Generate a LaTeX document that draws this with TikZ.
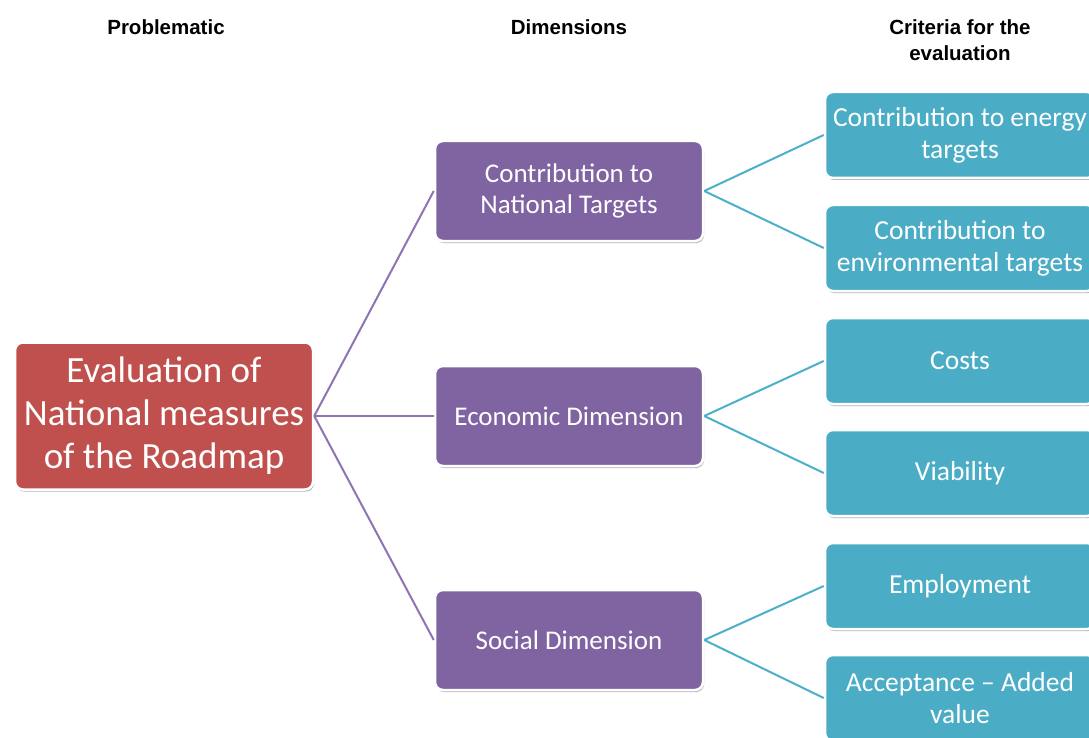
\documentclass[tikz,border=0pt]{standalone}
\usepackage{fontspec}
\setmainfont{Carlito}
\newfontfamily\hdrfont{Liberation Sans}
\usetikzlibrary{shadows}
\definecolor{cred}{HTML}{C0504D}
\definecolor{cpurple}{HTML}{8064A2}
\definecolor{cteal}{HTML}{4BACC6}
\definecolor{cpline}{HTML}{8E74B4}
\definecolor{ctline}{HTML}{4BB0CA}
\begin{document}
\begin{tikzpicture}[x=1pt,y=-1pt,
  box/.style={rounded corners=8pt, draw=white, line width=2.5pt, text=white, align=center, inner sep=0pt,
    drop shadow={shadow xshift=1pt, shadow yshift=-2pt, opacity=0.3, fill=black}},
  redbox/.style={box, fill=cred, minimum width=298pt, minimum height=147pt, font=\fontsize{37}{43}\selectfont},
  purplebox/.style={box, fill=cpurple, minimum width=268pt, minimum height=100pt, font=\fontsize{27}{31}\selectfont},
  tealbox/.style={box, fill=cteal, minimum width=270pt, minimum height=86pt, font=\fontsize{27.5}{32}\selectfont},
  header/.style={align=center, inner sep=0pt, font=\hdrfont\bfseries\fontsize{20.5}{26}\selectfont},
  pline/.style={draw=cpline, line width=2pt},
  tline/.style={draw=ctline, line width=2pt}]
\useasboundingbox (0,0) rectangle (1089,738);
\fill[white] (0,0) rectangle (1089,738);

\node[header] (h1) at (166,27) {Problematic};
\node[header] (h2) at (569,27) {Dimensions};
\node[header] (h3) at (960,40) {Criteria for the\\evaluation};

\node[redbox] (red) at (164,416) {Evaluation of\\National measures\\of the Roadmap};

\node[purplebox] (p1) at (569,191) {Contribution to\\National Targets};
\node[purplebox] (p2) at (569,416) {Economic Dimension};
\node[purplebox] (p3) at (569,640) {Social Dimension};

\node[tealbox] (t1) at (960,135) {Contribution to energy\\targets};
\node[tealbox] (t2) at (960,248) {Contribution to\\environmental targets};
\node[tealbox] (t3) at (960,361) {Costs};
\node[tealbox] (t4) at (960,473) {Viability};
\node[tealbox] (t5) at (960,586) {Employment};
\node[tealbox] (t6) at (960,698) {Acceptance -- Added\\value};

\draw[pline] (red.east) -- (p1.west);
\draw[pline] (red.east) -- (p2.west);
\draw[pline] (red.east) -- (p3.west);

\draw[tline] (p1.east) -- (t1.west);
\draw[tline] (p1.east) -- (t2.west);
\draw[tline] (p2.east) -- (t3.west);
\draw[tline] (p2.east) -- (t4.west);
\draw[tline] (p3.east) -- (t5.west);
\draw[tline] (p3.east) -- (t6.west);
\end{tikzpicture}
\end{document}
